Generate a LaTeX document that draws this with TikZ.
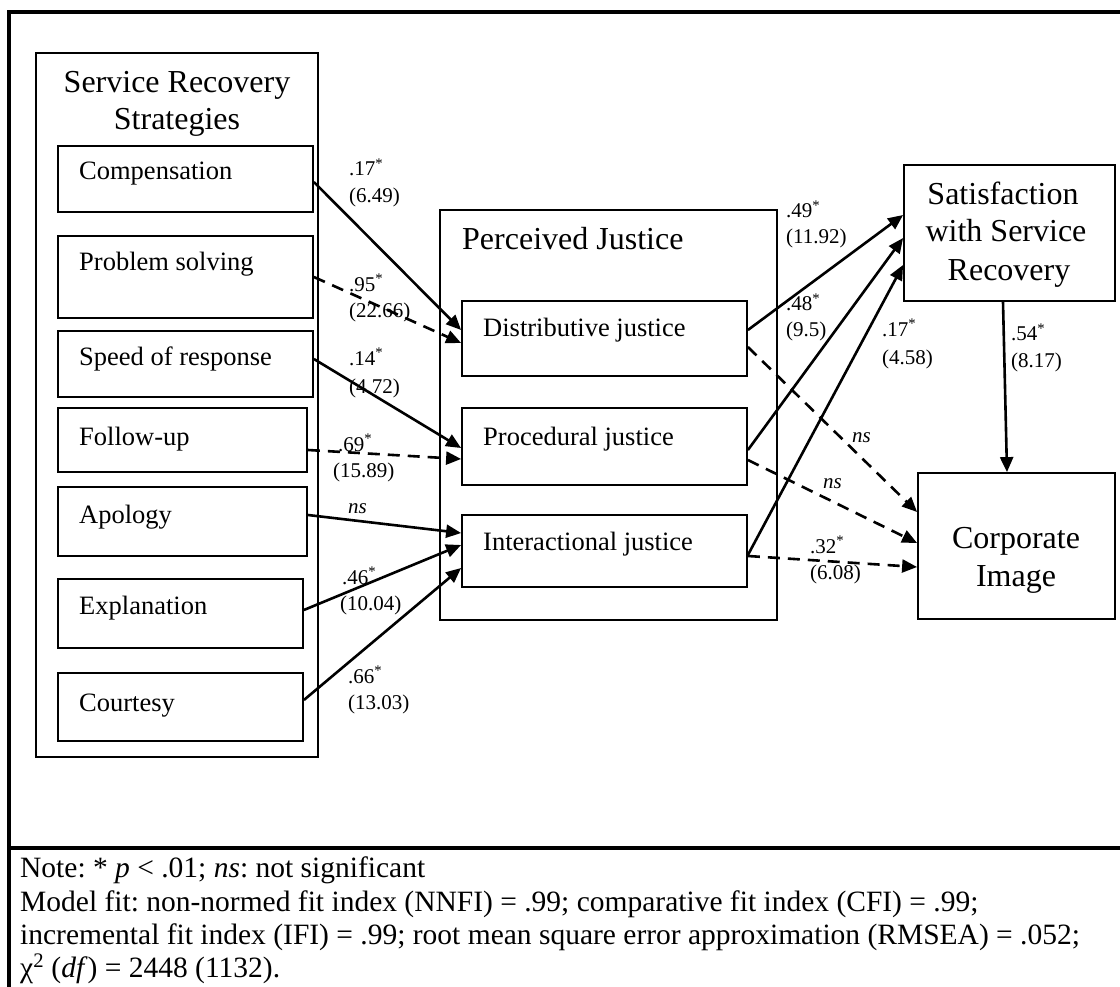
\documentclass[tikz,border=0pt]{standalone}
\usepackage{fontspec}
\setmainfont{Liberation Serif}
\usetikzlibrary{arrows.meta,calc}
\begin{document}
\frenchspacing
\begin{tikzpicture}[x=1pt,y=-1pt,
  box/.style={draw, line width=1.8pt, rectangle, inner sep=0pt},
  btxt/.style={anchor=base west, inner sep=0pt, font=\fontsize{26.5}{30}\selectfont},
  ttl/.style={anchor=base, inner sep=0pt, font=\fontsize{32}{37}\selectfont},
  lbl/.style={anchor=base west, inner sep=0pt, font=\fontsize{21}{24}\selectfont},
  arr/.style={line width=2.6pt, -{Triangle[length=15pt,width=13pt]}},
  darr/.style={arr, dash pattern=on 12pt off 8pt},
  notetxt/.style={anchor=base west, inner sep=0pt, font=\fontsize{29.5}{33}\selectfont}]
\useasboundingbox (0,0) rectangle (1120,987);
\clip (0,0) rectangle (1120,987);
% frame
\draw[line width=4.5pt] (9,990) -- (9,12) -- (1130,12);
\draw[line width=4.5pt] (9,848) -- (1130,848);
% left group
\node[box, minimum width=282pt, minimum height=704pt] (srs) at (177,405) {};
\node[ttl] (srst1) at (177,93) {Service Recovery};
\node[ttl] (srst2) at (177,130) {Strategies};
\node[box, minimum width=255pt, minimum height=66pt] (comp) at (185.5,179) {};
\node[box, minimum width=255pt, minimum height=82pt] (prob) at (185.5,277) {};
\node[box, minimum width=255pt, minimum height=66pt] (speed) at (185.5,364) {};
\node[box, minimum width=249pt, minimum height=64pt] (follow) at (182.5,440) {};
\node[box, minimum width=249pt, minimum height=69pt] (apol) at (182.5,521.5) {};
\node[box, minimum width=245pt, minimum height=69pt] (expl) at (180.5,613.5) {};
\node[box, minimum width=245pt, minimum height=68pt] (court) at (180.5,707) {};
\node[btxt] (compt) at (79,180) {Compensation};
\node[btxt] (probt) at (79,271) {Problem solving};
\node[btxt] (speedt) at (79,366) {Speed of response};
\node[btxt] (followt) at (79,445) {Follow-up};
\node[btxt] (apolt) at (79,523) {Apology};
\node[btxt] (explt) at (79,614) {Explanation};
\node[btxt] (courtt) at (79,711) {Courtesy};
% perceived justice
\node[box, minimum width=337pt, minimum height=410pt] (pj) at (608.5,415) {};
\node[ttl, anchor=base west] (pjt) at (462,250) {Perceived Justice};
\node[box, minimum width=285pt, minimum height=75pt] (dist) at (604.5,338.5) {};
\node[box, minimum width=285pt, minimum height=77pt] (proc) at (604.5,446.5) {};
\node[box, minimum width=285pt, minimum height=72pt] (inter) at (604.5,551) {};
\node[btxt] (distt) at (483,336) {Distributive justice};
\node[btxt] (proct) at (483,445) {Procedural justice};
\node[btxt] (intert) at (483,550) {Interactional justice};
% outcomes
\node[box, minimum width=211pt, minimum height=136pt] (sat) at (1009.5,233) {};
\node[ttl] (satt1) at (1003,205) {Satisfaction};
\node[ttl] (satt2) at (1006,242) {with Service};
\node[ttl] (satt3) at (1009,280) {Recovery};
\node[box, minimum width=197pt, minimum height=146pt] (ci) at (1016.5,546) {};
\node[ttl] (cit1) at (1016,548) {Corporate};
\node[ttl] (cit2) at (1016,586) {Image};
% arrows left
\draw[arr]  ($(comp.east)+(0,3)$)     -- ($(dist.west)+(0,-8.5)$);
\draw[darr] ($(prob.east)+(0,0)$)     -- ($(dist.west)+(0,4.5)$);
\draw[arr]  ($(speed.east)+(0,-5)$)   -- ($(proc.west)+(0,1.5)$);
\draw[darr] ($(follow.east)+(0,10)$)  -- ($(proc.west)+(0,12.5)$);
\draw[arr]  ($(apol.east)+(0,-6.5)$)  -- ($(inter.west)+(0,-18)$);
\draw[arr]  ($(expl.east)+(0,-3.5)$)  -- ($(inter.west)+(0,-6)$);
\draw[arr]  ($(court.east)+(0,-7)$)   -- ($(inter.west)+(0,17)$);
% arrows right
\draw[arr]  ($(dist.east)+(0,-8.5)$)  -- ($(sat.west)+(0,-18)$);
\draw[arr]  ($(proc.east)+(0,3.5)$)   -- ($(sat.west)+(0,5)$);
\draw[arr]  ($(inter.east)+(0,4)$)    -- ($(sat.west)+(0,32)$);
\draw[darr] ($(dist.east)+(0,8.5)$)   -- ($(ci.west)+(0,-34)$);
\draw[darr] ($(proc.east)+(0,13.5)$)  -- ($(ci.west)+(0,-3)$);
\draw[darr] ($(inter.east)+(0,5)$)    -- ($(ci.west)+(0,21)$);
\draw[arr]  ($(sat.south)+(-6.5,0)$)  -- ($(ci.north)+(-9.5,0)$);
% labels
\node[lbl] (l1a) at (349,176) {.17\textsuperscript{*}};
\node[lbl] (l1b) at (349,203) {(6.49)};
\node[lbl] (l2a) at (349,291) {.95\textsuperscript{*}};
\node[lbl] (l2b) at (349,318) {(22.66)};
\node[lbl] (l3a) at (349,365) {.14\textsuperscript{*}};
\node[lbl] (l3b) at (349,393) {(4.72)};
\node[lbl] (l4a) at (338,451) {.69\textsuperscript{*}};
\node[lbl] (l4b) at (333,477) {(15.89)};
\node[lbl] (l5) at (348,513) {\itshape ns};
\node[lbl] (l6a) at (342,584) {.46\textsuperscript{*}};
\node[lbl] (l6b) at (340,610) {(10.04)};
\node[lbl] (l7a) at (348,683) {.66\textsuperscript{*}};
\node[lbl] (l7b) at (348,709) {(13.03)};
\node[lbl] (r1a) at (786,218) {.49\textsuperscript{*}};
\node[lbl] (r1b) at (786,244) {(11.92)};
\node[lbl] (r2a) at (786,311) {.48\textsuperscript{*}};
\node[lbl] (r2b) at (786,336) {(9.5)};
\node[lbl] (r3a) at (882,336) {.17\textsuperscript{*}};
\node[lbl] (r3b) at (882,364) {(4.58)};
\node[lbl] (r4a) at (1011,341) {.54\textsuperscript{*}};
\node[lbl] (r4b) at (1011,367) {(8.17)};
\node[lbl] (r5) at (852,442) {\itshape ns};
\node[lbl] (r6) at (823,488) {\itshape ns};
\node[lbl] (r7a) at (810,553) {.32\textsuperscript{*}};
\node[lbl] (r7b) at (810,579) {(6.08)};
% note
\node[notetxt] (n1) at (20,877) {Note: * \textit{p} < .01; \textit{ns}: not significant};
\node[notetxt] (n2) at (20,911) {Model fit: non-normed fit index (NNFI) = .99; comparative fit index (CFI) = .99;};
\node[notetxt] (n3) at (20,944) {incremental fit index (IFI) = .99; root mean square error approximation (RMSEA) = .052;};
\node[notetxt] (n4) at (20,977) {χ\textsuperscript{2} (\textit{df}) = 2448 (1132).};
\end{tikzpicture}
\end{document}
